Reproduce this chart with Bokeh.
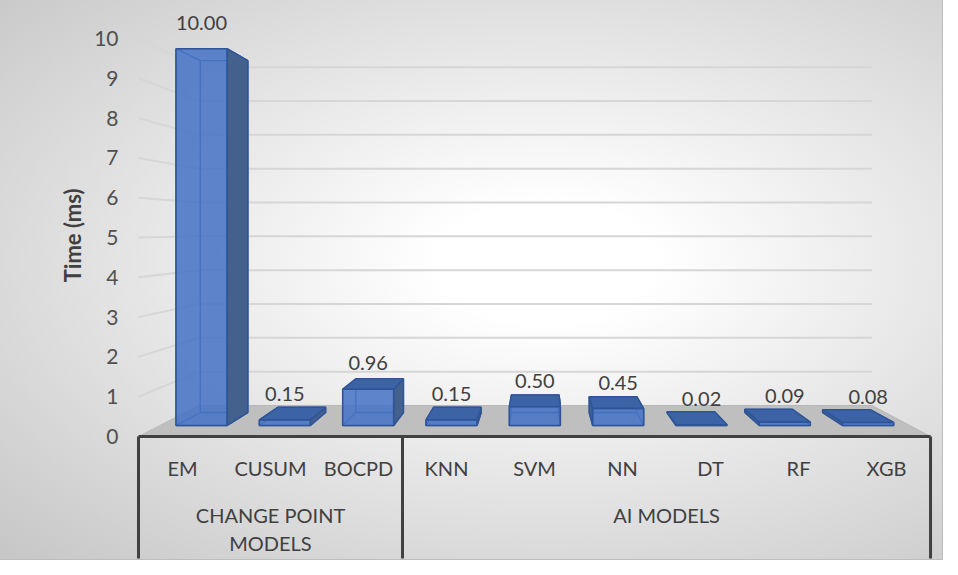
import numpy as np
from bokeh.plotting import figure
from bokeh.models import Range1d, FixedTicker, Title
from bokeh.core.properties import value
from bokeh.embed import file_html
from bokeh.resources import INLINE

# ---------------- data ----------------
categories = ["EM", "CUSUM", "BOCPD", "KNN", "SVM", "NN", "DT", "RF", "XGB"]
times_ms = [10.00, 0.15, 0.96, 0.15, 0.50, 0.45, 0.02, 0.09, 0.08]
groups = ["CHANGE POINT\nMODELS", "AI MODELS"]
group_sizes = [3, 6]
y_ticks = [0, 1, 2, 3, 4, 5, 6, 7, 8, 9, 10]
y_title = "Time (ms)"

# ---------------- 3-D look (perspective about a vanishing point) ----------------
VX, VY = 4.57, 5.2          # vanishing point in axis-plane units
S_AXIS, S_FRONT, S_BACK, S_WALL = 1.0, 0.947, 0.884, 0.85
HALF = 0.306                # half bar width (in category slots)
N = len(categories)


def proj(x, v, s):
    return VX + s * (x - VX), VY + s * (v - VY)


FONT = value("Lato")

p = figure(width=942, height=559, title=None,
           x_range=Range1d(-0.1136, 9.136), y_range=Range1d(-3.090, 10.955),
           output_backend="svg", toolbar_location=None,
           x_axis_location=None, y_axis_location="left",
           min_border_left=128, min_border_right=0, min_border_top=0, min_border_bottom=0,
           background_fill_alpha=0, border_fill_alpha=0, outline_line_color=None,
           styles={"background": "radial-gradient(ellipse farthest-corner at 58% 47%, #ffffff 0%, #ffffff 14%, #c6c6c6 100%)",
                   "outline": "1px solid #bdbdbd"})
p.grid.visible = False

# y axis
ax = p.yaxis[0]
ax.ticker = FixedTicker(ticks=y_ticks)
ax.axis_line_color = None
ax.major_tick_line_color = None
ax.minor_tick_line_color = None
ax.major_tick_out = 0
ax.major_label_standoff = 10
ax.major_label_text_font = "Lato"
ax.major_label_text_font_size = "21px"
ax.major_label_text_color = "#505050"

p.add_layout(Title(text=y_title, align="right", offset=188, standoff=12,
                   text_font="Lato", text_font_style="bold", text_font_size="22px",
                   text_color="#404040"), "left")

# ---------------- walls: gridlines ----------------
gxs, gys = [], []
for v in y_ticks[1:]:
    a = proj(0, v, S_WALL)
    b = proj(N, v, S_WALL)
    gxs.append([a[0], b[0]]); gys.append([a[1], b[1]])
    c = proj(0, v, S_AXIS)
    gxs.append([c[0], a[0]]); gys.append([c[1], a[1]])
p.multi_line(gxs, gys, line_color="#d6d6d6", line_width=2)

# floor
fl = [proj(0, 0, S_AXIS), proj(N, 0, S_AXIS), proj(N, 0, S_WALL), proj(0, 0, S_WALL)]
p.patch([q[0] for q in fl], [q[1] for q in fl], fill_color="#bfbfbf", line_color="#b8b8b8", line_width=1)

# ---------------- bars ----------------
edge_xs, edge_ys = [], []
side_xs, side_ys = [], []
top_xs, top_ys = [], []
front_xs, front_ys = [], []
lab_x, lab_y, lab_t = [], [], []
for i, v in enumerate(times_ms):
    xc = i + 0.5
    P = {}
    for sn, s in (("f", S_FRONT), ("b", S_BACK)):
        for xn, xx in (("l", xc - HALF), ("r", xc + HALF)):
            for vn, vv in (("0", 0.0), ("1", v)):
                P[sn + xn + vn] = proj(xx, vv, s)
    edges = [("fl0", "fr0"), ("fl1", "fr1"), ("fl0", "fl1"), ("fr0", "fr1"),
             ("bl0", "br0"), ("bl1", "br1"), ("bl0", "bl1"), ("br0", "br1"),
             ("fl0", "bl0"), ("fr0", "br0"), ("fl1", "bl1"), ("fr1", "br1")]
    for a, b in edges:
        edge_xs.append([P[a][0], P[b][0]]); edge_ys.append([P[a][1], P[b][1]])
    fx = proj(xc, 0, S_FRONT)[0]
    sd = "r" if fx < VX else "l"
    face = [P["f" + sd + "0"], P["f" + sd + "1"], P["b" + sd + "1"], P["b" + sd + "0"]]
    side_xs.append([q[0] for q in face]); side_ys.append([q[1] for q in face])
    if v < VY:
        face = [P["fl1"], P["fr1"], P["br1"], P["bl1"]]
        top_xs.append([q[0] for q in face]); top_ys.append([q[1] for q in face])
    face = [P["fl0"], P["fr0"], P["fr1"], P["fl1"]]
    front_xs.append([q[0] for q in face]); front_ys.append([q[1] for q in face])
    t = proj(xc, v, S_FRONT)
    lab_x.append(t[0]); lab_y.append(t[1]); lab_t.append(f"{v:.2f}")

p.multi_line(edge_xs, edge_ys, line_color="#3a68b8", line_width=1.3)
p.patches(side_xs, side_ys, fill_color="#44608d", line_color="#2f5597", line_width=1.5)
if top_xs:
    p.patches(top_xs, top_ys, fill_color="#3d63a7", line_color="#2f5597", line_width=1.5)
p.patches(front_xs, front_ys, fill_color="#4472c4", fill_alpha=0.85, line_color="#2f5597", line_width=1.5)

p.text(lab_x, lab_y, text=lab_t, text_font=FONT, text_font_size="20px", text_color="#404040",
       text_align="center", text_baseline="middle", y_offset=-26)

# ---------------- category axis (two levels) ----------------
p.text([i + 0.5 for i in range(N)], [-0.78] * N, text=categories, text_font=FONT,
       text_font_size="20px", text_color="#404040", text_align="center", text_baseline="middle")

starts = np.concatenate([[0], np.cumsum(group_sizes)])
gcx = [(starts[k] + starts[k + 1]) / 2 for k in range(len(groups))]
p.text(gcx, [-1.66] * len(groups), text=groups, text_font=FONT, text_font_size="20px",
       text_color="#404040", text_align="center", text_baseline="top", text_line_height=1.17)

p.segment(x0=list(starts), y0=[0] * len(starts), x1=list(starts), y1=[-3.065] * len(starts),
          line_color="#404040", line_width=3)
p.segment(x0=[0], y0=[0], x1=[N], y1=[0], line_color="#404040", line_width=3)

open("out.html", "w").write(file_html(p, INLINE))
